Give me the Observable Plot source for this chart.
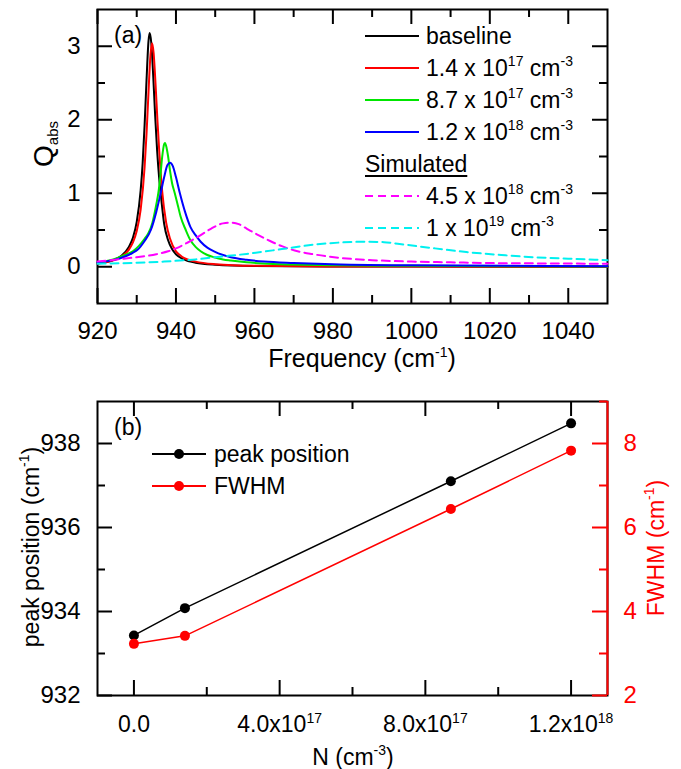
<!DOCTYPE html>
<html><head><meta charset="utf-8">
<script src="https://cdn.jsdelivr.net/npm/d3@7"></script>
<script src="https://cdn.jsdelivr.net/npm/@observablehq/plot@0.6"></script>
<style>
html,body{margin:0;padding:0;background:#fff;}
body{font-family:"Liberation Sans",Arial,sans-serif;color:#000;}
#wrap{position:relative;width:681px;height:769px;}
#wrap > svg{display:block;}
.abs{position:absolute;white-space:nowrap;line-height:1;pointer-events:none;}
.sup{font-size:14px;position:relative;top:-10px;}
.sub{font-size:15px;position:relative;top:5px;}
.rot{transform:translate(-50%,-50%) rotate(-90deg);transform-origin:center center;}
.leg{position:absolute;pointer-events:none;}
.leg .row{display:flex;align-items:center;height:32px;font-size:23px;}
.leg .row svg{display:block;flex:none;}
.leg .row span.t{margin-left:7px;}
</style></head>
<body><div id="wrap"></div>
<script>
// ---------------- Panel (a) data: Q_abs vs frequency ----------------
const freqDomain = [920, 1050];
const qDomain = [-0.5, 3.5];
const freqTicks = [920, 940, 960, 980, 1000, 1020, 1040];
const freqMinorTicks = [930, 950, 970, 990, 1010, 1030];
const qTicks = [0, 1, 2, 3];
const qMinorTicks = [0.5, 1.5, 2.5];

const freqBaseline = [920,924,926,928,929,930,931,931.5,932,932.5,933,933.3,933.7,934.2,934.7,935.2,935.7,936.3,937,938,939,940,942,945,950,960,980,1000,1050];
const qBaseline    = [0.045,0.09,0.145,0.27,0.39,0.61,1.04,1.40,1.92,2.54,3.07,3.18,3.05,2.60,2.05,1.58,1.22,0.90,0.58,0.36,0.24,0.17,0.10,0.055,0.028,0.011,0.004,0.002,0.001];

const freq14e17 = [920,924,926,928,929,930,931,932,932.5,933,933.5,933.9,934.3,934.8,935.3,935.8,936.5,937.5,938.5,940,941,942,945,950,960,980,1000,1050];
const q14e17    = [0.045,0.087,0.135,0.233,0.327,0.486,0.777,1.351,1.81,2.375,2.88,3.04,2.91,2.48,1.97,1.52,1.02,0.60,0.38,0.21,0.16,0.12,0.07,0.035,0.013,0.005,0.003,0.001];

const freq87e17 = [920,924,927,929,930.5,932,933,934,935,935.5,936,936.5,937,937.2,937.6,938,938.5,939,939.7,940.5,941.2,942.5,943.7,945,946.3,948,949.7,952,954,958,962,970,980,1000,1050];
const q87e17    = [0.06,0.10,0.16,0.21,0.28,0.38,0.46,0.60,0.85,1.00,1.22,1.50,1.67,1.685,1.62,1.50,1.30,1.14,1.00,0.83,0.68,0.50,0.36,0.27,0.21,0.16,0.13,0.10,0.085,0.06,0.045,0.03,0.02,0.012,0.005];

const freq12e18 = [920,924,927,929,930.2,932,933.6,935,936.1,937,937.8,938.5,939.2,940,941,942.3,943.7,945,946.3,948,949.7,952,954,958,962.5,970,982,1000,1050];
const q12e18    = [0.06,0.09,0.14,0.19,0.23,0.35,0.50,0.75,1.00,1.22,1.38,1.415,1.37,1.22,1.00,0.75,0.54,0.43,0.34,0.26,0.21,0.16,0.13,0.095,0.07,0.05,0.03,0.02,0.008];

const freqSim45e18 = [920,925,930,935,938,940,943,946,949,952,954,956,958,961,964,967,971,975,982,990,1000,1010,1020,1035,1050];
const qSim45e18    = [0.07,0.10,0.13,0.17,0.21,0.25,0.33,0.42,0.52,0.59,0.60,0.58,0.52,0.43,0.35,0.28,0.21,0.17,0.12,0.09,0.07,0.06,0.05,0.045,0.04];

const freqSim1e19 = [920,930,937,941,945,950,958,967,975,982,988,993,997,1006,1014,1023,1031,1040,1050];
const qSim1e19    = [0.04,0.055,0.07,0.085,0.10,0.13,0.175,0.24,0.30,0.33,0.34,0.335,0.31,0.25,0.20,0.16,0.13,0.11,0.09];

const legendMantissa = ["1.4", "8.7", "1.2", "4.5", "1"];
const legendExponent = ["17", "17", "18", "18", "19"];

// ---------------- Panel (b) data ----------------
const carrierN = [0, 1.4e17, 8.7e17, 1.2e18];
const peakPosition = [933.43, 934.08, 937.10, 938.48];
const fwhmValues = [3.23, 3.42, 6.44, 7.83];
const nDomain = [-1e17, 1.3e18];
const peakDomain = [932, 939];
const fwhmDomain = [2, 9];
const nTicks = [0, 4e17, 8e17, 1.2e18];
const nMinorTicks = [2e17, 6e17, 1e18];
const nTickLabels = ["0.0", "4.0x10^17", "8.0x10^17", "1.2x10^18"];
const peakTicks = [932, 934, 936, 938];
const peakMinorTicks = [933, 935, 937];
const fwhmTicks = [2, 4, 6, 8];
const fwhmMinorTicks = [3, 5, 7, 9];

// ---------------- styles / layout ----------------
const FONT = '"Liberation Sans", Arial, sans-serif';
const MAJ = 15, MIN = 8;
const W = 681;
const ML = 97, MR = 74;
const innerW = W - ML - MR;
const curveStyles = [
  {stroke: "#000000", dash: null},
  {stroke: "#ff0000", dash: null},
  {stroke: "#00e600", dash: null},
  {stroke: "#0000ff", dash: null},
  {stroke: "#ff00ff", dash: "8,5"},
  {stroke: "#00f0f0", dash: "8,5"}
];
const curveData = [
  [freqBaseline, qBaseline],
  [freq14e17, q14e17],
  [freq87e17, q87e17],
  [freq12e18, q12e18],
  [freqSim45e18, qSim45e18],
  [freqSim1e19, qSim1e19]
];
const pts = (fs, qs) => fs.map((f, i) => ({f, q: qs[i]}));

// inward tick marks: rules inset so only `len` px remain at the chosen frame edge
function ticksIn(values, side, len, innerH, color) {
  const o = {stroke: color || "black", strokeWidth: 2};
  if (side === "bottom") return Plot.ruleX(values, {...o, insetTop: innerH - len});
  if (side === "top") return Plot.ruleX(values, {...o, insetBottom: innerH - len});
  if (side === "left") return Plot.ruleY(values, {...o, insetRight: innerW - len});
  return Plot.ruleY(values, {...o, insetLeft: innerW - len});
}

const wrap = document.getElementById("wrap");

// ---------------- Panel (a) ----------------
const hA = 380 - 9 - 77;
const plotA = Plot.plot({
  width: W, height: 380,
  marginTop: 9, marginRight: MR, marginBottom: 77, marginLeft: ML,
  x: {domain: freqDomain},
  y: {domain: qDomain},
  style: {fontFamily: FONT, fontSize: "24px", color: "black", background: "white"},
  marks: [
    Plot.frame({stroke: "black", strokeWidth: 2}),
    ticksIn(freqTicks, "bottom", MAJ, hA),
    ticksIn(freqMinorTicks, "bottom", MIN, hA),
    ticksIn(freqTicks, "top", MAJ, hA),
    ticksIn(freqMinorTicks, "top", MIN, hA),
    ticksIn(qTicks, "left", MAJ, hA),
    ticksIn(qMinorTicks, "left", MIN, hA),
    ticksIn(qTicks, "right", MAJ, hA),
    ticksIn(qMinorTicks, "right", MIN, hA),
    ...curveData.map(([fs, qs], k) => Plot.line(pts(fs, qs), {
      x: "f", y: "q", stroke: curveStyles[k].stroke, strokeWidth: 2,
      strokeDasharray: curveStyles[k].dash || undefined, curve: "monotone-x"
    })),
    Plot.axisX(freqTicks, {anchor: "bottom", tickSize: 0, tickPadding: 18, label: null, tickFormat: d => String(d)}),
    Plot.axisY(qTicks, {anchor: "left", tickSize: 0, tickPadding: 17, label: null, tickFormat: d => String(d)})
  ]
});
wrap.appendChild(plotA);

// ---------------- Panel (b) ----------------
const hB = 389 - 21 - 74;
const fwhmToPeak = d3.scaleLinear(fwhmDomain, peakDomain);
const pointsB = carrierN.map((n, i) => ({n, peak: peakPosition[i], fwhmY: fwhmToPeak(fwhmValues[i])}));

const plotB = Plot.plot({
  width: W, height: 389,
  marginTop: 21, marginRight: MR, marginBottom: 74, marginLeft: ML,
  x: {domain: nDomain},
  y: {domain: peakDomain},
  style: {fontFamily: FONT, fontSize: "24px", color: "black", background: "white"},
  marks: [
    Plot.frame({stroke: "black", strokeWidth: 2}),
    Plot.ruleX([nDomain[1]], {stroke: "red", strokeWidth: 2}),
    ticksIn(nTicks, "bottom", MAJ, hB),
    ticksIn(nMinorTicks, "bottom", MIN, hB),
    ticksIn(nTicks, "top", MAJ, hB),
    ticksIn(nMinorTicks, "top", MIN, hB),
    ticksIn(peakTicks, "left", MAJ, hB),
    ticksIn(peakMinorTicks, "left", MIN, hB),
    ticksIn(fwhmTicks.map(fwhmToPeak), "right", MAJ, hB, "red"),
    ticksIn(fwhmMinorTicks.map(fwhmToPeak), "right", MIN, hB, "red"),
    Plot.axisX(nTicks, {anchor: "bottom", tickSize: 0, tickPadding: 20, label: null, fontSize: 23,
      tickFormat: d => nTickLabels[nTicks.indexOf(d)]}),
    Plot.axisY(peakTicks, {anchor: "left", tickSize: 0, tickPadding: 17, label: null, tickFormat: d => String(d)}),
    Plot.axisY(fwhmTicks.map(fwhmToPeak), {anchor: "right", tickSize: 0, tickPadding: 16, label: null,
      tickFormat: d => String(Math.round(fwhmToPeak.invert(d))), fill: "red"}),
    Plot.line(pointsB, {x: "n", y: "peak", stroke: "black", strokeWidth: 1.5}),
    Plot.line(pointsB, {x: "n", y: "fwhmY", stroke: "red", strokeWidth: 1.5}),
    Plot.dot(pointsB, {x: "n", y: "peak", r: 5, fill: "black", stroke: "none"}),
    Plot.dot(pointsB, {x: "n", y: "fwhmY", r: 5, fill: "red", stroke: "none"})
  ]
});
wrap.appendChild(plotB);

// superscript exponents in tick labels
plotB.querySelectorAll("text").forEach(t => {
  const s = t.textContent;
  const i = s.indexOf("^");
  if (i < 0) return;
  t.textContent = s.slice(0, i);
  const sp = document.createElementNS("http://www.w3.org/2000/svg", "tspan");
  sp.setAttribute("dy", "-9");
  sp.setAttribute("font-size", "14");
  sp.textContent = s.slice(i + 1);
  t.appendChild(sp);
});

// ---------------- overlay texts & legends ----------------
function addDiv(html, css, cls) {
  const d = document.createElement("div");
  d.className = "abs " + (cls || "");
  d.innerHTML = html;
  Object.assign(d.style, css);
  wrap.appendChild(d);
  return d;
}
addDiv('Frequency (cm<span class="sup">-1</span>)', {left: "362px", top: "346px", fontSize: "25px", transform: "translateX(-50%)"});
addDiv('Q<span class="sub">abs</span>', {left: "44px", top: "144px", fontSize: "28px"}, "rot");
addDiv('peak position (cm<span class="sup">-1</span>)', {left: "31px", top: "547px", fontSize: "23px"}, "rot");
addDiv('FWHM (cm<span class="sup">-1</span>)', {left: "656px", top: "548px", fontSize: "23px", color: "#ff0000"}, "rot");
addDiv('N (cm<span class="sup">-3</span>)', {left: "353px", top: "746px", fontSize: "23px", transform: "translateX(-50%)"});
addDiv('(a)', {left: "114px", top: "24px", fontSize: "23px"});
addDiv('(b)', {left: "114px", top: "416px", fontSize: "23px"});

// legend (a)
const legA = document.createElement("div");
legA.className = "leg";
Object.assign(legA.style, {left: "365px", top: "20px"});
function sample(color, dash, marker) {
  return `<svg width="54" height="12"><line x1="0" y1="6" x2="54" y2="6" stroke="${color}" stroke-width="2"${dash ? ` stroke-dasharray="${dash}"` : ""}/>${marker ? `<circle cx="27" cy="6" r="5" fill="${color}"/>` : ""}</svg>`;
}
const legRowsA = [];
legRowsA.push(`<div class="row">${sample(curveStyles[0].stroke)}<span class="t">baseline</span></div>`);
for (let k = 0; k < 3; k++) {
  legRowsA.push(`<div class="row">${sample(curveStyles[k + 1].stroke)}<span class="t">${legendMantissa[k]} x 10<span class="sup">${legendExponent[k]}</span> cm<span class="sup">-3</span></span></div>`);
}
legRowsA.push(`<div class="row"><span style="text-decoration:underline;text-underline-offset:3px;text-decoration-thickness:1.5px">Simulated</span></div>`);
for (let k = 3; k < 5; k++) {
  legRowsA.push(`<div class="row">${sample(curveStyles[k + 1].stroke, curveStyles[k + 1].dash)}<span class="t">${legendMantissa[k]} x 10<span class="sup">${legendExponent[k]}</span> cm<span class="sup">-3</span></span></div>`);
}
legA.innerHTML = legRowsA.join("");
wrap.appendChild(legA);

// legend (b)
const legB = document.createElement("div");
legB.className = "leg";
Object.assign(legB.style, {left: "152px", top: "438px"});
legB.innerHTML = `<div class="row">${sample("#000", null, true)}<span class="t" style="margin-left:8px">peak position</span></div>` +
                 `<div class="row">${sample("#ff0000", null, true)}<span class="t" style="margin-left:8px">FWHM</span></div>`;
wrap.appendChild(legB);
</script>
</body></html>
